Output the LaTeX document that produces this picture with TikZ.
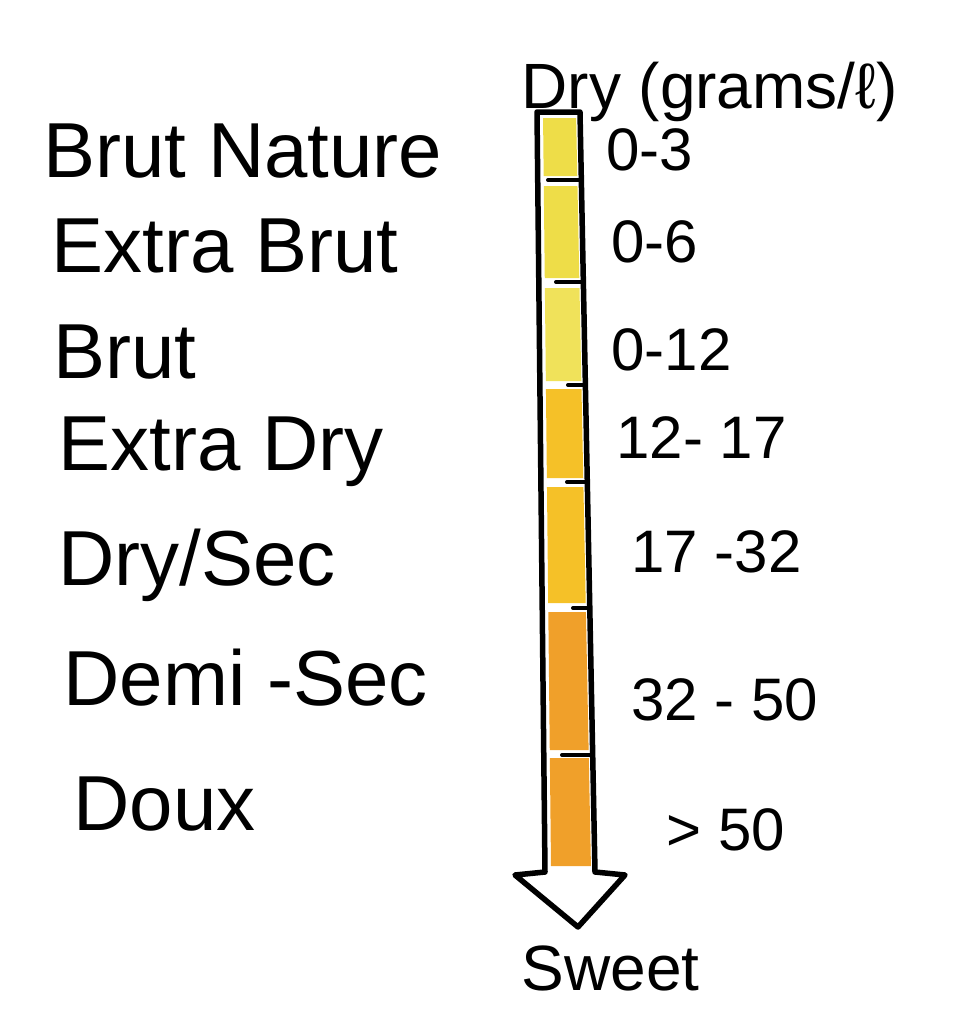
\documentclass[tikz,border=0pt]{standalone}
\usepackage{fontspec}
\setmainfont{Liberation Sans}
\usepackage{tikz}
\usetikzlibrary{positioning}

\definecolor{lemon}{HTML}{EEDD48}
\definecolor{lemonpale}{HTML}{F0E25A}
\definecolor{goldish}{HTML}{F5C128}
\definecolor{amber}{HTML}{F0A02A}

\begin{document}
\begin{tikzpicture}[x=1pt,y=-1pt,line join=round,line cap=round,
    wine/.style={anchor=base west,font=\fontsize{78}{82}\selectfont},
    grams/.style={anchor=base west,font=\fontsize{60}{64}\selectfont},
    head/.style={anchor=base west,font=\fontsize{64}{68}\selectfont},
    tick/.style={line width=4pt}]
  \useasboundingbox (0,0) rectangle (954,1023);

  % colour bands inside the tube
  \foreach \ya/\yb/\col in {118/176/lemon,186/278/lemon,288/381/lemonpale,
                            389/478/goldish,487/603/goldish,612/750/amber,758/866/amber}{
    \pgfmathsetmacro{\la}{543+0.0106*(\ya-112)}
    \pgfmathsetmacro{\lb}{543+0.0106*(\yb-112)}
    \pgfmathsetmacro{\ra}{576+0.0198*(\ya-112)}
    \pgfmathsetmacro{\rb}{576+0.0198*(\yb-112)}
    \fill[\col] (\la,\ya) -- (\ra,\ya) -- (\rb,\yb) -- (\lb,\yb) -- cycle;
  }

  % the tube and its arrow head
  \draw[line width=5.5pt] (537,112) -- (580,112) -- (595,872) -- (625,875)
    -- (578,927) -- (515,875) -- (545,872) -- cycle;

  % band limits
  \foreach \y/\xa in {180/548,282/556,385/568,482/567,608/573,755/562}{
    \pgfmathsetmacro{\xb}{580+0.0198*(\y-112)}
    \draw[tick] (\xa,\y) -- (\xb,\y);
  }

  % styles of wine
  \node[wine] (natur)  at (40,177) {Brut Nature};
  \node[wine] (xbrut)  at (48,272) {Extra Brut};
  \node[wine] (brut)   at (50,378) {Brut};
  \node[wine] (xdry)   at (55,470) {Extra Dry};
  \node[wine] (sec)    at (55,585) {Dry/Sec};
  \node[wine] (demi)   at (60,705) {Demi -Sec};
  \node[wine] (doux)   at (70,830) {Doux};

  % sugar in grams per litre
  \node[head]  (dry)    at (518,108) {Dry (grams/ℓ)};
  \node[grams] (g3)     at (603,170) {0-3};
  \node[grams] (g6)     at (608,262) {0-6};
  \node[grams] (g12)    at (608,370) {0-12};
  \node[grams] (g17)    at (613,458) {12- 17};
  \node[grams] (g32)    at (628,572) {17 -32};
  \node[grams] (g50)    at (628,720) {32 - 50};
  \node[grams] (gmore)  at (663,850) {> 50};
  \node[head]  (sweet)  at (518,990) {Sweet};
\end{tikzpicture}
\end{document}
